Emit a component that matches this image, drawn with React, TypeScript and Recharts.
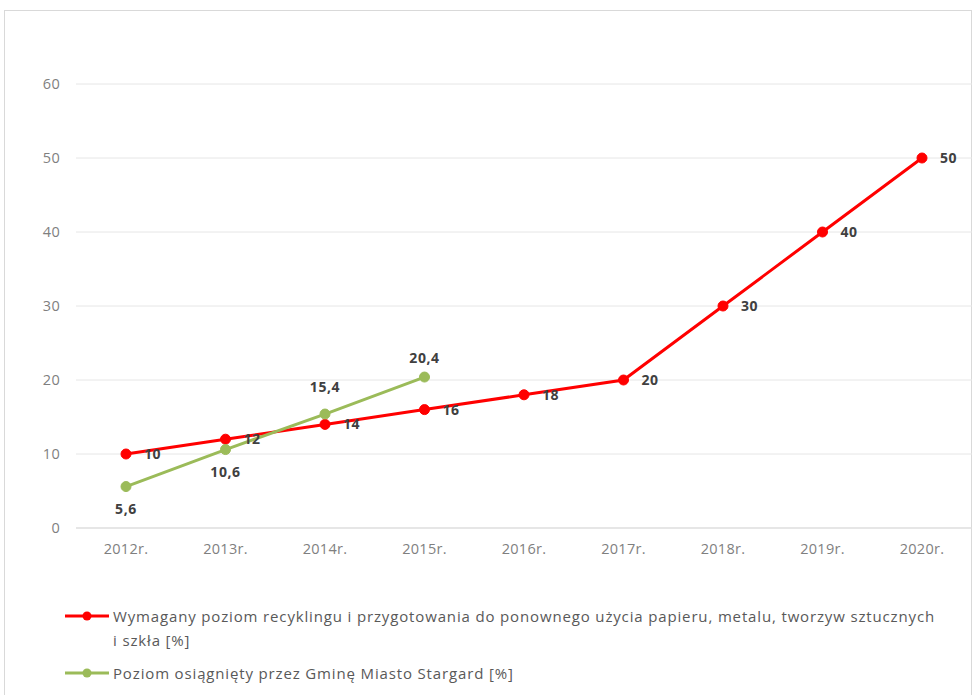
import { CartesianGrid, LabelList, Line, LineChart, XAxis, YAxis } from "recharts";

const YEARS = ["2012r.", "2013r.", "2014r.", "2015r.", "2016r.", "2017r.", "2018r.", "2019r.", "2020r."];
const REQUIRED = [10, 12, 14, 16, 18, 20, 30, 40, 50];
const ACHIEVED: (number | null)[] = [5.6, 10.6, 15.4, 20.4, null, null, null, null, null];
const Y_TICKS = [0, 10, 20, 30, 40, 50, 60];

const RED_NAME =
  "Wymagany poziom recyklingu i przygotowania do ponownego użycia papieru, metalu, tworzyw sztucznych";
const RED_NAME_2 = "i szkła [%]";
const GREEN_NAME = "Poziom osiągnięty przez Gminę Miasto Stargard [%]";

const data = YEARS.map((year, i) => ({
  year,
  required: REQUIRED[i],
  achieved: ACHIEVED[i],
}));

const RED = "#ff0000";
const GREEN = "#9bbb59";
const FONT = "'Open Sans', Arial, sans-serif";

const fmt = (v: unknown) => (v == null ? "" : String(v).replace(".", ","));

// green labels: first two below the point, the rest above
const GREEN_DY = [27, 27, -22, -14];

const GreenLabel = (props: any) => {
  const { x, y, value, index } = props;
  if (value == null) return null;
  return (
    <text
      x={x}
      y={y + (GREEN_DY[index] ?? -14)}
      textAnchor="middle"
      fill="#404040"
      fontSize={14}
      fontWeight="bold"
      letterSpacing={0.6}
      fontFamily={FONT}
    >
      {fmt(value)}
    </text>
  );
};

const RedLabel = (props: any) => {
  const { x, y, value } = props;
  return (
    <text
      x={x + 18}
      y={y + 5}
      fill="#404040"
      fontSize={14}
      fontWeight="bold"
      letterSpacing={0.6}
      fontFamily={FONT}
    >
      {fmt(value)}
    </text>
  );
};

const LegendMark = ({ color }: { color: string }) => (
  <svg width={44} height={12} style={{ flex: "none", marginTop: 6 }}>
    <line x1={0} y1={6} x2={44} y2={6} stroke={color} strokeWidth={3} />
    <circle cx={22} cy={6} r={4.5} fill={color} />
  </svg>
);

const tickStyle = { fill: "#7f7f7f", fontSize: 14.5, fontFamily: FONT, letterSpacing: 0.3 };

export default function App() {
  return (
    <div
      style={{
        position: "absolute",
        left: 0,
        top: 0,
        width: 975,
        height: 695,
        background: "#fff",
        overflow: "hidden",
        fontFamily: FONT,
      }}
    >
      <div
        style={{
          position: "absolute",
          left: 4,
          top: 10,
          width: 966,
          height: 720,
          border: "1px solid #d9d9d9",
        }}
      />
      <div style={{ position: "absolute", left: 0, top: 0 }}>
        <LineChart
          width={975}
          height={695}
          data={data}
          margin={{ top: 84, right: 3, bottom: 137, left: 0 }}
        >
          <CartesianGrid vertical={false} stroke="#e6e6e6" />
          <XAxis
            dataKey="year"
            tickLine={false}
            axisLine={{ stroke: "#d9d9d9" }}
            tickMargin={10}
            height={30}
            padding={{ left: 50, right: 50 }}
            tick={tickStyle}
            interval={0}
          />
          <YAxis
            domain={[0, 60]}
            ticks={Y_TICKS}
            tickLine={false}
            axisLine={false}
            width={76}
            tickMargin={10}
            tick={tickStyle}
          />
          <Line
            dataKey="required"
            stroke={RED}
            strokeWidth={3}
            dot={{ r: 5, fill: RED, stroke: RED, strokeWidth: 1 }}
            isAnimationActive={false}
          >
            <LabelList dataKey="required" content={RedLabel} />
          </Line>
          <Line
            dataKey="achieved"
            stroke={GREEN}
            strokeWidth={3}
            dot={{ r: 5, fill: GREEN, stroke: GREEN, strokeWidth: 1 }}
            isAnimationActive={false}
          >
            <LabelList dataKey="achieved" content={GreenLabel} />
          </Line>
        </LineChart>
      </div>
      <div
        style={{
          position: "absolute",
          left: 65,
          top: 604,
          fontSize: 15,
          letterSpacing: 0.85,
          color: "#595959",
          lineHeight: "24px",
        }}
      >
        <div style={{ display: "flex", alignItems: "flex-start", gap: 4 }}>
          <LegendMark color={RED} />
          <div>
            <div style={{ whiteSpace: "nowrap" }}>{RED_NAME}</div>
            <div>{RED_NAME_2}</div>
          </div>
        </div>
        <div style={{ display: "flex", alignItems: "flex-start", gap: 4, marginTop: 9 }}>
          <LegendMark color={GREEN} />
          <div>{GREEN_NAME}</div>
        </div>
      </div>
    </div>
  );
}
